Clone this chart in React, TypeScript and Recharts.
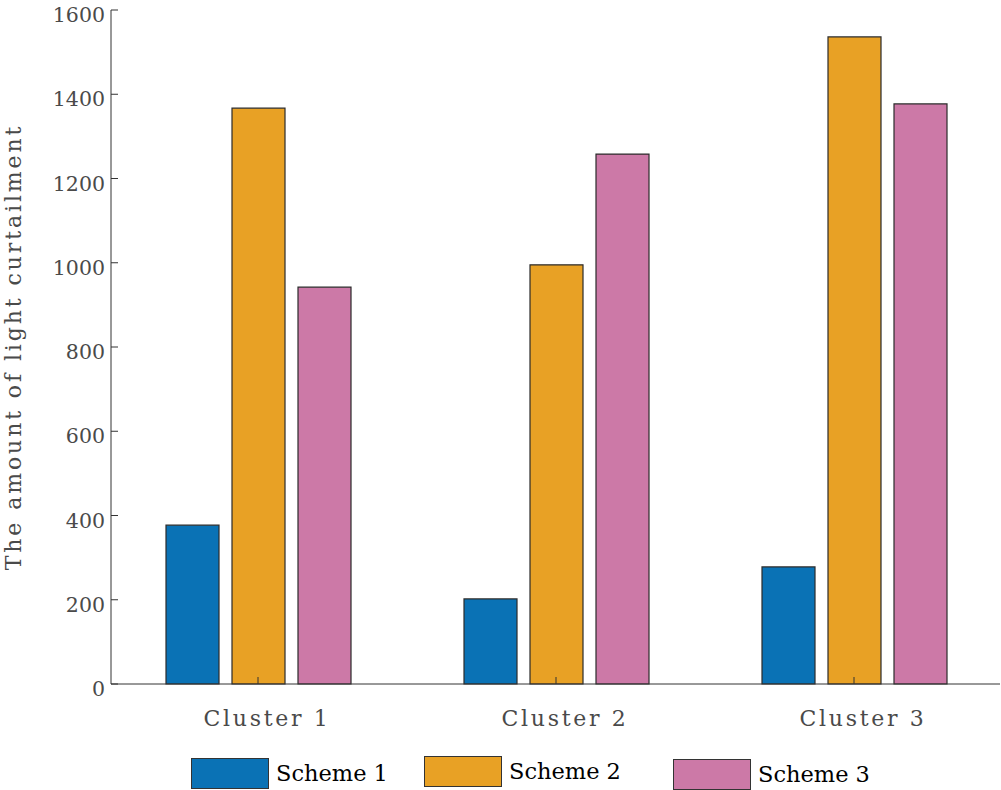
import React from 'react';
import { BarChart, Bar, XAxis, YAxis, Label } from 'recharts';

const clusters = ['Cluster 1', 'Cluster 2', 'Cluster 3'];
const scheme1 = [377, 202, 278];
const scheme2 = [1367, 995, 1536];
const scheme3 = [942, 1258, 1377];
const yTicks = [0, 200, 400, 600, 800, 1000, 1200, 1400, 1600];

const SERIES = [
  { key: 'scheme1', label: 'Scheme 1', color: '#0a72b5' },
  { key: 'scheme2', label: 'Scheme 2', color: '#e8a125' },
  { key: 'scheme3', label: 'Scheme 3', color: '#cc79a7' },
];

// legend boxes sit a little uneven in the original
const LEGEND_POS = [
  { left: 191, top: 757 },
  { left: 424, top: 755 },
  { left: 673, top: 758 },
];

const FONT = '"DejaVu Serif", "Liberation Serif", serif';
const AXIS = '#333333';
const TEXT = '#4a4a4a';

const data = clusters.map((c, i) => ({
  cluster: c,
  scheme1: scheme1[i],
  scheme2: scheme2[i],
  scheme3: scheme3[i],
}));

const noTick = () => <g />;

function YTick(props: any) {
  const { x, y, payload } = props;
  return (
    <text x={x} y={y + 5} textAnchor="end" dominantBaseline="central" fill={TEXT} fontFamily={FONT} fontSize={20.5}>
      {payload.value}
    </text>
  );
}

function XTick(props: any) {
  const { x, y, payload } = props;
  return (
    <text x={x + 9} y={y} textAnchor="middle" fill={TEXT} fontFamily={FONT} fontSize={22} letterSpacing={2.7}>
      {payload.value}
    </text>
  );
}

function YTitle(props: any) {
  const { viewBox } = props;
  const x = viewBox.x + 21;
  const y = viewBox.y + viewBox.height / 2;
  return (
    <text
      x={x}
      y={y}
      transform={`rotate(-90 ${x} ${y})`}
      textAnchor="middle"
      fill={TEXT}
      fontFamily={FONT}
      fontSize={22}
      letterSpacing={2.9}
    >
      The amount of light curtailment
    </text>
  );
}

export default function App() {
  return (
    <div style={{ position: 'absolute', left: 0, top: 0, width: 1001, height: 790, background: '#fff' }}>
      <BarChart
        width={1001}
        height={790}
        data={data}
        margin={{ top: 10, right: 1, left: 0, bottom: 0 }}
        barSize={53}
        barGap={13}
      >
        <XAxis
          dataKey="cluster"
          height={106}
          padding={{ left: -2, right: -3 }}
          stroke={AXIS}
          tickSize={-7}
          tickMargin={49}
          tick={XTick}
          tickLine={{ stroke: AXIS }}
        />
        <XAxis
          xAxisId="top"
          dataKey="cluster"
          orientation="top"
          height={0}
          padding={{ left: -2, right: -3 }}
          stroke={AXIS}
          tickSize={-7}
          tick={noTick}
          tickLine={{ stroke: AXIS }}
        />
        <YAxis
          width={111}
          domain={[0, 1600]}
          ticks={yTicks}
          interval={0}
          stroke={AXIS}
          tickSize={-7}
          tickMargin={13}
          tick={YTick}
          tickLine={{ stroke: AXIS }}
        >
          <Label content={YTitle} />
        </YAxis>
        <YAxis
          yAxisId="right"
          orientation="right"
          width={0}
          domain={[0, 1600]}
          ticks={yTicks}
          interval={0}
          stroke={AXIS}
          tickSize={-7}
          tick={noTick}
          tickLine={{ stroke: AXIS }}
        />
        {SERIES.map((s) => (
          <Bar
            key={s.key}
            dataKey={s.key}
            fill={s.color}
            stroke="#2b2b2b"
            strokeWidth={1.2}
            isAnimationActive={false}
          />
        ))}
      </BarChart>

      {/* legend, drawn as plain html under the axes */}
      {SERIES.map((s, i) => (
        <div
          key={s.key}
          style={{
            position: 'absolute',
            left: LEGEND_POS[i].left,
            top: LEGEND_POS[i].top,
            display: 'flex',
            alignItems: 'center',
            fontFamily: FONT,
            fontSize: 22.5,
            color: '#000',
          }}
        >
          <div
            style={{
              width: 76,
              height: 29,
              background: s.color,
              border: '1.5px solid #333',
              marginRight: 7,
            }}
          />
          <span style={{ lineHeight: '32px' }}>{s.label}</span>
        </div>
      ))}
    </div>
  );
}
